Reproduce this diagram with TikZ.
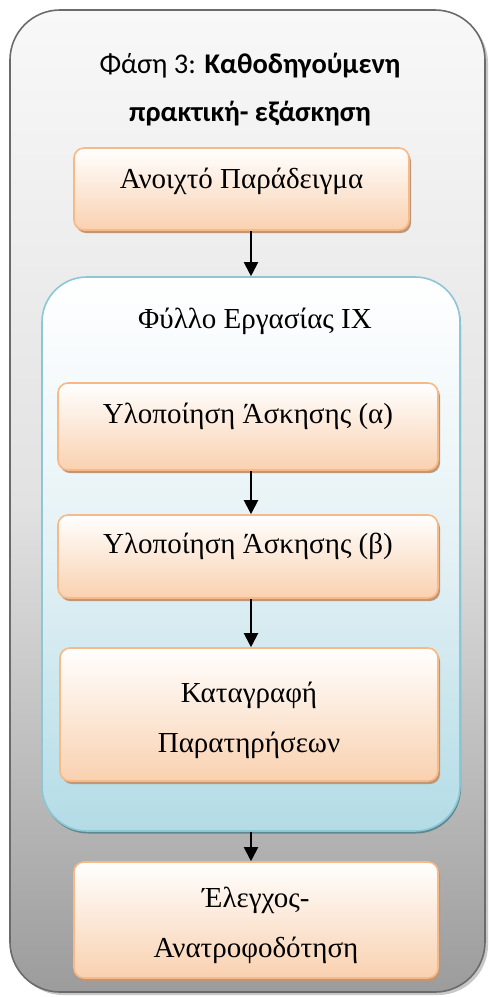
\documentclass[tikz,border=0pt]{standalone}
\usepackage{fontspec}
\setmainfont{Liberation Serif}
\newfontfamily\titlefont{Carlito}
\usetikzlibrary{arrows.meta,shadows}

% colours of the three kinds of boxes
\definecolor{stepline}{HTML}{F7B985}
\definecolor{steptop}{HTML}{FFFFFF}
\definecolor{stepbot}{HTML}{F9D1B0}
\definecolor{stepshadow}{HTML}{BF9677}
\definecolor{sheetline}{HTML}{8CC7D6}
\definecolor{sheettop}{HTML}{FFFFFF}
\definecolor{sheetmid}{HTML}{E4F1F5}
\definecolor{sheetbot}{HTML}{B3DCE6}
\definecolor{sheetshadow}{HTML}{5E8790}
\definecolor{phaseline}{HTML}{6B6B6B}
\definecolor{phasetop}{HTML}{F8F8F8}
\definecolor{phasemid}{HTML}{E2E2E2}
\definecolor{phasebot}{HTML}{9C9C9C}
\definecolor{phaseshadow}{HTML}{C8C8C8}

\begin{document}
\begin{tikzpicture}[x=1pt,y=1pt,
    phase/.style={draw=phaseline, line width=1.6pt, rounded corners=50pt,
        top color=phasetop, bottom color=phasebot, middle color=phasemid,
        drop shadow={shadow xshift=3pt, shadow yshift=-3pt, fill=phaseshadow, opacity=1}},
    sheet/.style={draw=sheetline, line width=1.6pt, rounded corners=45pt,
        top color=sheettop, bottom color=sheetbot, middle color=sheetmid,
        drop shadow={shadow xshift=1pt, shadow yshift=-2.5pt, fill=sheetshadow, opacity=1}},
    stepbox/.style={draw=stepline, line width=1.6pt, rounded corners=10pt,
        top color=steptop, bottom color=stepbot,
        drop shadow={shadow xshift=2pt, shadow yshift=-3pt, fill=stepshadow, opacity=1},
        font=\fontsize{29}{50}\selectfont, align=center},
    flow/.style={-{Triangle[length=14pt,width=14pt]}, line width=2pt}]
    \useasboundingbox (0,0) rectangle (488,-997);

    % outer phase box and its heading
    \node[phase, minimum width=475pt, minimum height=982pt] (phase) at (247.5,-501) {};
    \node[font=\titlefont\fontsize{28.5}{48}\selectfont, align=center] (heading) at (250,-90)
        {Φάση 3: \textbf{Καθοδηγούμενη}\\\textbf{πρακτική- εξάσκηση}};

    \node[stepbox, minimum width=335pt, minimum height=82pt, text height=19pt, text depth=21pt]
        (example) at (241.5,-189) {Ανοιχτό Παράδειγμα};

    % worksheet group
    \node[sheet, minimum width=418pt, minimum height=554pt] (sheet) at (251,-554) {};
    \node[anchor=base, font=\fontsize{29}{50}\selectfont] (sheettitle) at (255,-328) {Φύλλο Εργασίας IX};

    \node[stepbox, minimum width=380pt, minimum height=87pt, text height=15pt, text depth=21pt]
        (taskA) at (248,-426.5) {Υλοποίηση Άσκησης (α)};
    \node[stepbox, minimum width=380pt, minimum height=83pt, text height=15pt, text depth=21pt]
        (taskB) at (248,-556.5) {Υλοποίηση Άσκησης (β)};
    \node[stepbox, minimum width=378pt, minimum height=133pt, text height=76pt, text depth=0pt]
        (notes) at (249,-714.5) {Καταγραφή\\Παρατηρήσεων};

    \node[stepbox, minimum width=364pt, minimum height=116pt, text height=74pt, text depth=0pt]
        (feedback) at (256,-920) {Έλεγχος-\\Ανατροφοδότηση};

    % arrows
    \draw[flow] (example.south -| sheet.north) -- (sheet.north);
    \draw[flow] (taskA.south -| sheet.north) -- (taskB.north -| sheet.north);
    \draw[flow] (taskB.south -| sheet.north) -- (notes.north -| sheet.north);
    \draw[flow] (sheet.south) -- (feedback.north -| sheet.south);
\end{tikzpicture}
\end{document}
